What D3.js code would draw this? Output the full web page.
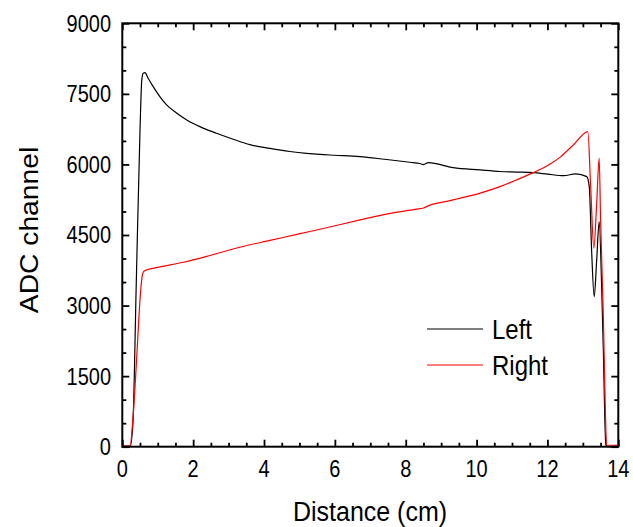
<!DOCTYPE html>
<html>
<head>
<meta charset="utf-8">
<script src="https://d3js.org/d3.v7.min.js"></script>
<style>
  body { margin: 0; background: #fff; }
  svg { display: block; }
  text { font-family: "Liberation Sans", Arial, sans-serif; fill: #000; }
</style>
</head>
<body>
<svg id="chart" width="633" height="527"></svg>
<script>
// Signal from the left-side readout vs. source position
const leftDist = [0, 0.22, 0.30, 0.39, 0.50, 0.55, 0.59, 0.64, 0.73, 0.85, 1.06, 1.25, 1.54, 1.82, 2.19, 2.66,
  3.13, 3.60, 4.17, 4.73, 5.20, 5.58, 6.00, 6.71, 7.40, 8.12, 8.40, 8.50, 8.64, 9.34, 10.10, 10.66,
  11.13, 11.60, 12.00, 12.46, 12.80, 13.11, 13.18, 13.25, 13.32, 13.39, 13.46, 13.53, 13.58, 13.62, 13.65, 13.70, 14.0];
const leftADC = [0, 0, 497, 3332, 6732, 7797, 7940, 7952, 7833, 7680, 7442, 7265, 7089, 6946, 6804, 6663,
  6536, 6420, 6340, 6275, 6235, 6212, 6195, 6166, 6110, 6047, 6020, 5997, 6039, 5932, 5883, 5850,
  5838, 5826, 5795, 5760, 5800, 5741, 5528, 4112, 3190, 3970, 4784, 3402, 1986, 568, 36, 0, 0];

// Signal from the right-side readout vs. source position
const rightDist = [0, 0.22, 0.30, 0.40, 0.48, 0.52, 0.56, 0.60, 0.70, 1.00, 1.72, 2.50, 3.32, 4.20, 5.02, 5.58,
  6.71, 7.50, 8.30, 8.50, 8.68, 9.25, 9.44, 10.10, 10.66, 11.13, 11.60, 11.88, 12.10, 12.35, 12.75, 13.14,
  13.22, 13.31, 13.39, 13.46, 13.50, 13.58, 13.63, 13.67, 14.0];
const rightADC = [20, 20, 600, 1800, 2900, 3330, 3620, 3720, 3760, 3810, 3920, 4070, 4240, 4390, 4530, 4622,
  4820, 4950, 5050, 5075, 5135, 5230, 5265, 5390, 5528, 5671, 5826, 5925, 6020, 6150, 6430, 6698,
  5528, 4218, 5175, 6132, 4820, 2694, 922, 36, 30];

const xTicks = [0, 2, 4, 6, 8, 10, 12, 14];
const xMinor = d3.range(0, 14.01, 0.5);
const yTicks = [0, 1500, 3000, 4500, 6000, 7500, 9000];
const yMinor = d3.range(0, 9001, 500);
const seriesNames = ["Left", "Right"];
const seriesColors = ["#000000", "#ff0000"];

const svg = d3.select("#chart");
const m = { left: 122.3, top: 23.3, right: 618.3, bottom: 446.7 };

const x = d3.scaleLinear().domain([0, 14]).range([m.left, m.right]);
const y = d3.scaleLinear().domain([0, 9000]).range([m.bottom, m.top]);

// Data lines
const line = d3.line().x(d => d[0]).y(d => d[1]).curve(d3.curveMonotoneX);
const series = [
  d3.zip(leftDist, leftADC).map(([d, v]) => [x(d), y(v)]),
  d3.zip(rightDist, rightADC).map(([d, v]) => [x(d), y(v)])
];
series.forEach((pts, i) => {
  svg.append("path")
    .attr("d", line(pts))
    .attr("fill", "none")
    .attr("stroke", seriesColors[i])
    .attr("stroke-width", 1.2)
    .attr("stroke-linejoin", "round");
});

// Inward ticks on all four sides
function tickGroup(axis, transform) {
  const g = svg.append("g").attr("transform", transform).call(axis);
  g.select(".domain").remove();
  g.selectAll("line").attr("stroke", "#000").attr("stroke-width", 1.8);
  g.selectAll("text").remove();
}
const minorX = xMinor.filter(v => !xTicks.includes(v));
const minorY = yMinor.filter(v => !yTicks.includes(v));

tickGroup(d3.axisBottom(x).tickValues(xTicks).tickSize(-7), `translate(0,${m.bottom})`);
tickGroup(d3.axisBottom(x).tickValues(minorX).tickSize(-4), `translate(0,${m.bottom})`);
tickGroup(d3.axisTop(x).tickValues(xTicks).tickSize(-7), `translate(0,${m.top})`);
tickGroup(d3.axisTop(x).tickValues(minorX).tickSize(-4), `translate(0,${m.top})`);
tickGroup(d3.axisLeft(y).tickValues(yTicks).tickSize(-7), `translate(${m.left},0)`);
tickGroup(d3.axisLeft(y).tickValues(minorY).tickSize(-4), `translate(${m.left},0)`);
tickGroup(d3.axisRight(y).tickValues(yTicks).tickSize(-7), `translate(${m.right},0)`);
tickGroup(d3.axisRight(y).tickValues(minorY).tickSize(-4), `translate(${m.right},0)`);

// Frame
svg.append("rect")
  .attr("x", m.left).attr("y", m.top)
  .attr("width", m.right - m.left).attr("height", m.bottom - m.top)
  .attr("fill", "none").attr("stroke", "#000").attr("stroke-width", 2);

// Tick labels
svg.append("g").selectAll("text").data(xTicks).join("text")
  .attr("transform", d => `translate(${x(d)},477) scale(1,1.17)`)
  .attr("text-anchor", "middle")
  .attr("font-size", 20)
  .text(d => d);

svg.append("g").selectAll("text").data(yTicks).join("text")
  .attr("transform", d => `translate(111,${y(d)}) scale(1,1.17)`)
  .attr("text-anchor", "end")
  .attr("dy", "0.36em")
  .attr("font-size", 20)
  .text(d => d);

// Axis titles
svg.append("text")
  .attr("transform", "translate(370,520.7) scale(1,1.13)")
  .attr("text-anchor", "middle")
  .attr("font-size", 25)
  .text("Distance (cm)");

svg.append("text")
  .attr("transform", "translate(38,230) rotate(-90) scale(1.13,1)")
  .attr("text-anchor", "middle")
  .attr("font-size", 25)
  .text("ADC channel");

// Legend
const legendRows = [329, 365];
seriesNames.forEach((name, i) => {
  svg.append("line")
    .attr("x1", 427).attr("x2", 483)
    .attr("y1", legendRows[i]).attr("y2", legendRows[i])
    .attr("stroke", seriesColors[i]).attr("stroke-width", 1.2);
  svg.append("text")
    .attr("transform", `translate(492,${legendRows[i] + 9.5}) scale(1,1.16)`)
    .attr("font-size", 24)
    .text(name);
});
</script>
</body>
</html>
